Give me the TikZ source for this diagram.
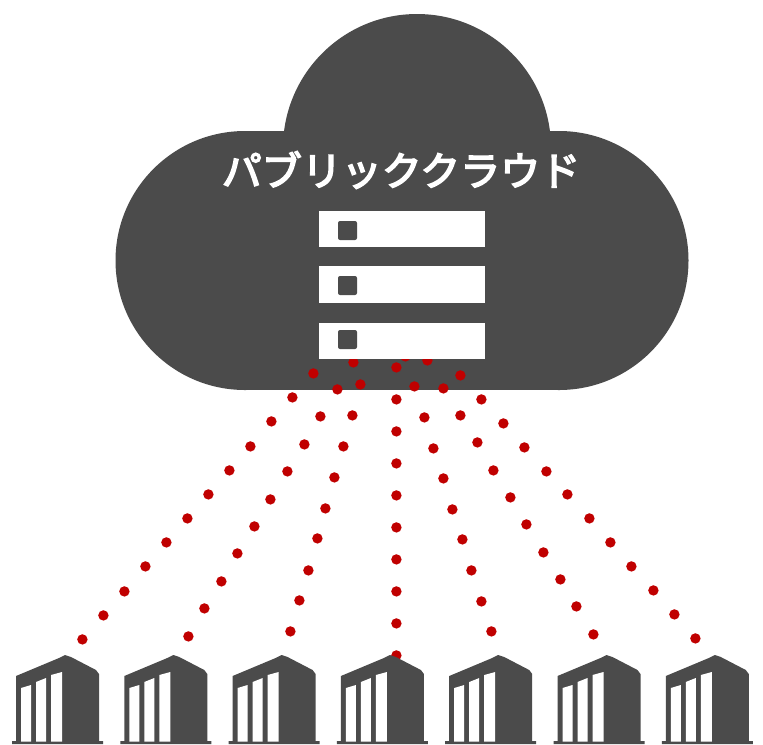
\documentclass[tikz,border=0pt]{standalone}
\usepackage{fontspec}
\newfontfamily\cjk[FakeBold=4]{Noto Sans CJK JP}
\definecolor{cloudgrey}{HTML}{4B4B4B}
\definecolor{dotred}{HTML}{C00000}
\tikzset{
  cloudshape/.style={fill=cloudgrey,draw=none},
  rackbar/.style={fill=white,draw=none},
  rackled/.style={fill=cloudgrey,draw=none,rounded corners=1.5},
  linkdot/.style={fill=dotred,draw=none},
  towerbody/.style={fill=cloudgrey,draw=none},
  towerpane/.style={fill=white,draw=none},
}
\begin{document}
\begin{tikzpicture}[x=0.75pt,y=-0.75pt]
\useasboundingbox (0,0) rectangle (763,744);
% cloud
\fill[cloudshape] (245,260.5) circle[radius=129.5*0.75pt];
\fill[cloudshape] (559,260.5) circle[radius=129.5*0.75pt];
\fill[cloudshape] (417,148) circle[radius=134*0.75pt];
\fill[cloudshape] (245,131) rectangle (559,390);
% dotted links
\foreach \x/\y in {
  82/639,103/615,124/591,145/566,166/542,187/518,208/494,229/470,250/446,271/421,292/397,313/373,
  188/636,204/608,221/581,237/553,254/526,270/499,287/471,304/444,320/416,337/389,353/362,
  290/631,299/600,308/570,317/538,325/508,334/477,343/446,352/415,360/384,
  396/655,396/623,396/591,396/559,396/527,396/495,396/463,396/431,396/399,396/367,
  491/631,481/601,471/570,462/539,452/509,443/478,433/448,424/417,414/386,405/356,
  593/634,576/606,560/579,543/552,526/524,510/497,493/470,477/442,460/415,443/388,427/360,
  695/638,674/614,653/590,631/566,610/542,589/518,567/494,546/471,524/447,503/423,481/399,460/375
}{ \fill[linkdot] (\x+0.4,\y+0.4) circle[radius=5.2*0.75pt]; }
% server rack
\foreach \t/\b/\lt in {211/247/221,266/303/276,323/359/330}{
  \fill[rackbar] (319,\t) rectangle (485,\b);
  \fill[rackled] (338,\lt) rectangle ++(19,19);
}
\node[text=white,font=\cjk\fontsize{30}{30}\selectfont,inner sep=0pt] (title) at (401,170) {パブリッククラウド};
% towers
\foreach \d in {0,108.3,216.6,324.9,433.2,541.5,649.8}{
  \begin{scope}[xshift=\d*0.75pt]
    \fill[towerbody] (16,676) -- (59,658) -- (65,655) -- (71,657) -- (96,670) -- (99,674) -- (99,741) -- (103,741) -- (103,744) -- (12,744) -- (12,741) -- (16,741) -- cycle;
    \fill[towerpane] (21,688) -- (31,685) -- (31,741.5) -- (21,741.5) -- cycle;
    \fill[towerpane] (36,682) -- (46,678) -- (46,741.5) -- (36,741.5) -- cycle;
    \fill[towerpane] (51,675) -- (62,672) -- (62,741.5) -- (51,741.5) -- cycle;
  \end{scope}
}
\end{tikzpicture}
\end{document}
